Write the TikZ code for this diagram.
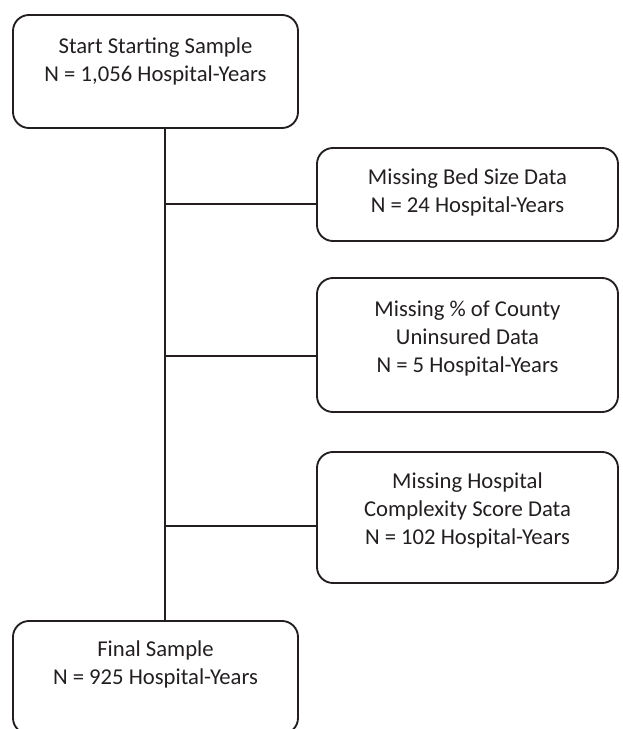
\documentclass[tikz,border=0pt]{standalone}
\usepackage{fontspec}
\setmainfont{Carlito}
\usetikzlibrary{calc}
\definecolor{ink}{HTML}{231F20}
\begin{document}
\begin{tikzpicture}[x=0.75pt,y=-0.75pt,
  box/.style={draw=ink, line width=1.4pt, rounded corners=12pt, inner sep=0pt},
  lbl/.style={align=center, font=\fontsize{17}{21}\selectfont, text=ink, inner sep=0pt, anchor=north},
  conn/.style={draw=ink, line width=1.4pt}]
\useasboundingbox (0,0) rectangle (622,729);
% boxes
\node[box, minimum width=213.75pt, minimum height=84.75pt] (A) at (155.5,71.5) {};
\node[box, minimum width=225.75pt, minimum height=69.75pt] (B) at (467.5,194.5) {};
\node[box, minimum width=225.75pt, minimum height=100.5pt] (C) at (467.5,345) {};
\node[box, minimum width=225.75pt, minimum height=98.25pt] (D) at (467.5,517.5) {};
\node[box, minimum width=213.75pt, minimum height=84.75pt] (E) at (155.5,677.5) {};
% texts
\node[lbl] (tA) at (155.5,37.5) {Start Starting Sample\\N = 1,056 Hospital-Years};
\node[lbl] (tB) at (467.5,168.5) {Missing Bed Size Data\\N = 24 Hospital-Years};
\node[lbl] (tC) at (467.5,300.5) {Missing \% of County\\Uninsured Data\\N = 5 Hospital-Years};
\node[lbl] (tD) at (467.5,472.5) {Missing Hospital\\Complexity Score Data\\N = 102 Hospital-Years};
\node[lbl] (tE) at (155.5,640.5) {Final Sample\\N = 925 Hospital-Years};
% spine and branches
\coordinate (s) at (165,0);
\coordinate (j1) at (165,204);
\coordinate (j2) at (165,356);
\coordinate (j3) at (165,526);
\draw[conn] (A.south -| s) -- (E.north -| s);
\draw[conn] (j1) -- (j1 -| B.west);
\draw[conn] (j2) -- (j2 -| C.west);
\draw[conn] (j3) -- (j3 -| D.west);
\end{tikzpicture}
\end{document}
